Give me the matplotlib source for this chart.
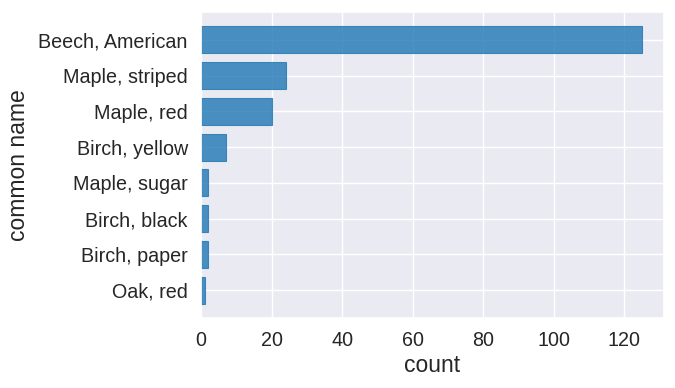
import matplotlib
matplotlib.use("Agg")
import matplotlib.pyplot as plt
import seaborn as sns

names = ["Beech, American", "Maple, striped", "Maple, red", "Birch, yellow",
         "Maple, sugar", "Birch, black", "Birch, paper", "Oak, red"]
counts = [125, 24, 20, 7, 2, 2, 2, 1]

sns.set_theme(style="darkgrid", font_scale=1.25)
plt.rcParams["font.family"] = ["Arial", "Liberation Sans", "DejaVu Sans"]

fig = plt.figure(figsize=(6.75, 3.88), dpi=100)
ax = fig.add_axes([201 / 675, 1 - 318 / 388, 463 / 675, 306 / 388])
ax.barh(range(len(names)), counts, height=0.75, color="#1f77b4", alpha=0.8,
        edgecolor="#1f77b4", linewidth=0.8)
ax.set_yticks(range(len(names)))
ax.set_yticklabels(names, fontsize=14.2)
ax.tick_params(axis="x", labelsize=14.2)
ax.set_ylim(7.78, -0.78)
ax.set_xlim(0, 131.25)
ax.set_xticks([0, 20, 40, 60, 80, 100, 120])
ax.set_xlabel("count", fontsize=16.5, labelpad=3)
ax.set_ylabel("common name", fontsize=16.5, labelpad=6)
fig.savefig("out.png", dpi=100)
